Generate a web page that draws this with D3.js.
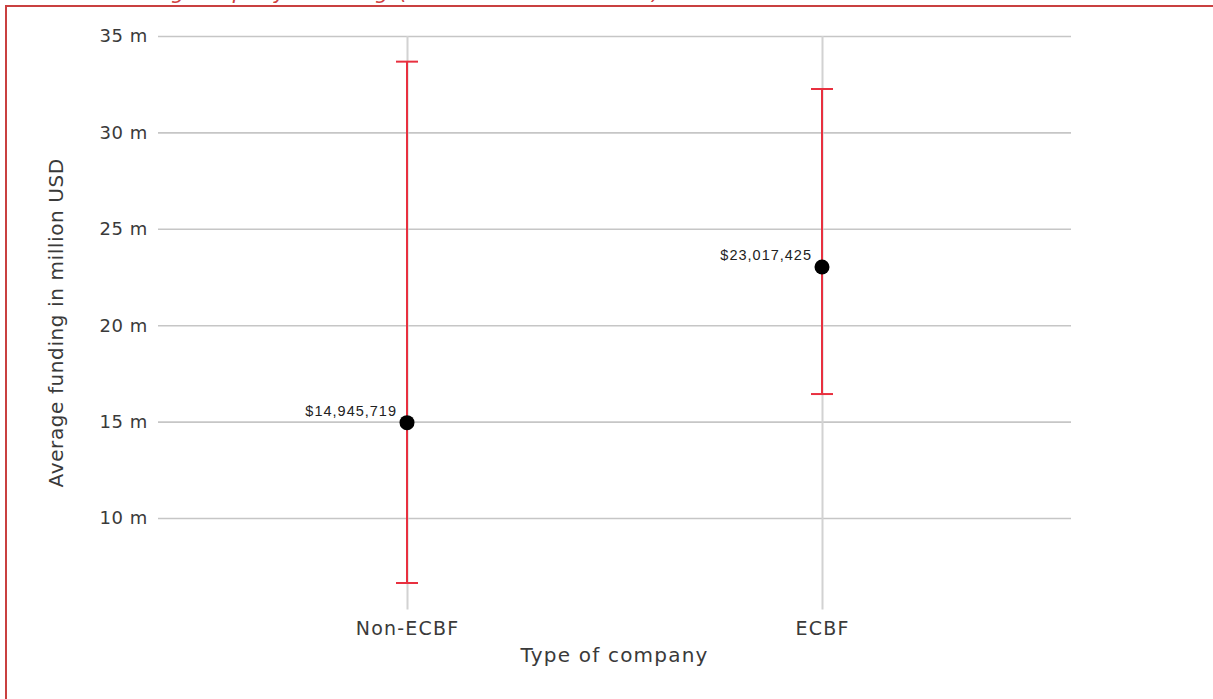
<!DOCTYPE html>
<html>
<head>
<meta charset="utf-8">
<script src="https://cdn.jsdelivr.net/npm/d3@7"></script>
<style>
  html, body { margin: 0; padding: 0; background: #fff; }
  svg { display: block; }
</style>
</head>
<body>
<svg id="chart" width="1213" height="699"></svg>
<script>
// Company types on the x axis
const categories = ["Non-ECBF", "ECBF"];
// Mean funding per company type (USD)
const means = [14945719, 23017425];
// Confidence interval bounds (USD)
const lowers = [6630000, 16430000];
const uppers = [33670000, 32250000];
// Y axis ticks (million USD)
const yTicks = [10, 15, 20, 25, 30, 35];

const svg = d3.select("#chart");
const W = 1213, H = 699;
const plot = { left: 158, right: 1071, top: 36, bottom: 609.6 };
const labelFont = "'DejaVu Sans', 'Open Sans', sans-serif";
const textColor = "#3a3a3a";

// Frame and the heading above it, which runs off the top edge
svg.append("text")
  .attr("x", 100).attr("y", -1)
  .attr("font-family", labelFont)
  .attr("font-style", "italic")
  .attr("font-size", 21)
  .attr("letter-spacing", 2)
  .attr("fill", "#d04040")
  .text("Average equity funding (current million USD)");

svg.append("rect")
  .attr("x", 6).attr("y", 6)
  .attr("width", W + 10).attr("height", H + 10)
  .attr("fill", "none")
  .attr("stroke", "#c94040")
  .attr("stroke-width", 2);

const y = d3.scaleLinear()
  .domain([5.25, 35])
  .range([plot.bottom, plot.top]);

const x = d3.scalePoint()
  .domain(categories)
  .range([plot.left, plot.right])
  .padding(0.6);

// Horizontal gridlines with tick labels
const yAxis = d3.axisLeft(y)
  .tickValues(yTicks)
  .tickSize(-(plot.right - plot.left))
  .tickPadding(10)
  .tickFormat(d => d + " m");

const gy = svg.append("g")
  .attr("transform", `translate(${plot.left},0)`)
  .call(yAxis);
gy.select(".domain").remove();
gy.selectAll(".tick line")
  .attr("stroke", "#c6c6c6")
  .attr("stroke-width", 1.6);
gy.selectAll(".tick text")
  .attr("font-family", labelFont)
  .attr("font-size", 18)
  .attr("letter-spacing", 0.6)
  .attr("fill", textColor)
  .attr("dy", "0.33em");

// Vertical gridlines with category labels
const xAxis = d3.axisBottom(x)
  .tickSize(-(plot.bottom - plot.top))
  .tickPadding(12);

const gx = svg.append("g")
  .attr("transform", `translate(0,${plot.bottom})`)
  .call(xAxis);
gx.select(".domain").remove();
gx.selectAll(".tick line")
  .attr("stroke", "#d2d2d2")
  .attr("stroke-width", 2);
gx.selectAll(".tick text")
  .attr("font-family", labelFont)
  .attr("font-size", 19)
  .attr("letter-spacing", 1.2)
  .attr("fill", textColor);

// Axis titles
svg.append("text")
  .attr("x", (plot.left + plot.right) / 2)
  .attr("y", 662)
  .attr("text-anchor", "middle")
  .attr("font-family", labelFont)
  .attr("font-size", 20)
  .attr("letter-spacing", 1.2)
  .attr("fill", textColor)
  .text("Type of company");

svg.append("text")
  .attr("transform", `translate(63,${(plot.top + plot.bottom) / 2}) rotate(-90)`)
  .attr("text-anchor", "middle")
  .attr("font-family", labelFont)
  .attr("font-size", 20)
  .attr("letter-spacing", 0.6)
  .attr("fill", textColor)
  .text("Average funding in million USD");

// Error bars, means and value labels
const rows = categories.map((c, i) => ({
  cat: c, mean: means[i] / 1e6, lo: lowers[i] / 1e6, hi: uppers[i] / 1e6, raw: means[i]
}));

const bars = svg.append("g").selectAll("g").data(rows).join("g");
const capW = 11;
const red = "#e8303f";

bars.append("line")
  .attr("x1", d => x(d.cat)).attr("x2", d => x(d.cat))
  .attr("y1", d => y(d.lo)).attr("y2", d => y(d.hi))
  .attr("stroke", red).attr("stroke-width", 2);
bars.append("line")
  .attr("x1", d => x(d.cat) - capW).attr("x2", d => x(d.cat) + capW)
  .attr("y1", d => y(d.hi)).attr("y2", d => y(d.hi))
  .attr("stroke", red).attr("stroke-width", 2);
bars.append("line")
  .attr("x1", d => x(d.cat) - capW).attr("x2", d => x(d.cat) + capW)
  .attr("y1", d => y(d.lo)).attr("y2", d => y(d.lo))
  .attr("stroke", red).attr("stroke-width", 2);

bars.append("circle")
  .attr("cx", d => x(d.cat))
  .attr("cy", d => y(d.mean))
  .attr("r", 7.5)
  .attr("fill", "#000");

const fmt = d3.format("$,.0f");
bars.append("text")
  .attr("x", d => x(d.cat) - 10)
  .attr("y", d => y(d.mean) - 7)
  .attr("text-anchor", "end")
  .attr("font-family", "'Liberation Sans', Arial, sans-serif")
  .attr("font-size", 14.5)
  .attr("letter-spacing", 1)
  .attr("fill", "#222")
  .text(d => fmt(d.raw));
</script>
</body>
</html>
